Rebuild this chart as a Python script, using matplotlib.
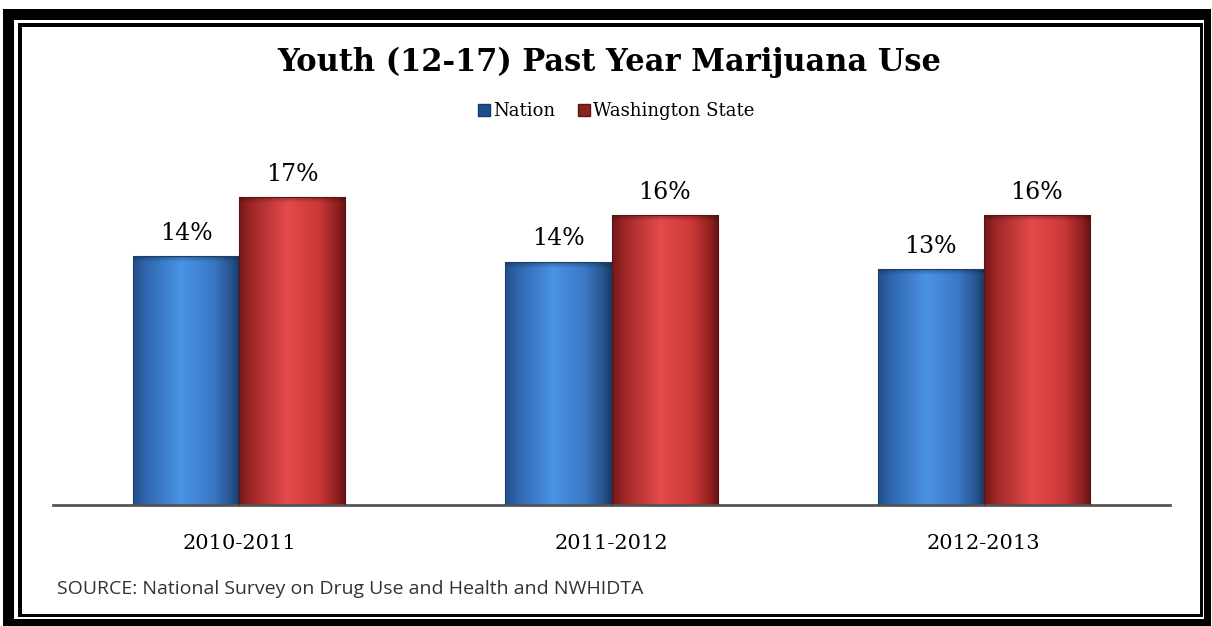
import numpy as np
import matplotlib
matplotlib.use("Agg")
import matplotlib.pyplot as plt
from matplotlib.patches import Rectangle
from matplotlib.colors import LinearSegmentedColormap
from matplotlib.lines import Line2D

# ---- data ----
categories = ["2010-2011", "2011-2012", "2012-2013"]
nation = [13.9, 13.6, 13.2]
washington = [17.2, 16.2, 16.2]
series_names = ["Nation", "Washington State"]
title = "Youth (12-17) Past Year Marijuana Use"
source = "SOURCE: National Survey on Drug Use and Health and NWHIDTA"

W, H = 1212, 626
fig = plt.figure(figsize=(W / 100, H / 100), dpi=100)
fig.patch.set_facecolor("white")

def px_rect(x0, y0, x1, y1, color, z):
    fig.patches.append(Rectangle((x0 / W, 1 - y1 / H), (x1 - x0) / W, (y1 - y0) / H,
                                 transform=fig.transFigure, facecolor=color,
                                 edgecolor="none", zorder=z))

# double frame
px_rect(3, 9, 1211, 626, "black", 0)
px_rect(14, 20, 1204, 619, "white", 0.1)
px_rect(18, 23, 1203, 617, "black", 0.2)
px_rect(22, 27, 1200, 614, "white", 0.3)

ax_left, ax_right = 53, 1170
base_y = 505
ymax = 20
px_per_unit = 17.9
top_y = base_y - ymax * px_per_unit
ax = fig.add_axes([ax_left / W, 1 - base_y / H, (ax_right - ax_left) / W, (base_y - top_y) / H])
ax.set_facecolor("none")
ax.set_zorder(2)

x = np.arange(len(categories))
bw = 0.285

blue_cmap = LinearSegmentedColormap.from_list(
    "b", [(0, "#244f88"), (0.12, "#2f66ad"), (0.45, "#4a93e6"), (0.75, "#3b78c6"), (0.92, "#27548f"), (1, "#183a66")])
red_cmap = LinearSegmentedColormap.from_list(
    "r", [(0, "#741818"), (0.12, "#a02828"), (0.45, "#e44b4b"), (0.75, "#cb3737"), (0.92, "#902020"), (1, "#601212")])

grad = np.linspace(0, 1, 256).reshape(1, -1)

def draw_bars(xs, vals, cmap, edge):
    bars = ax.bar(xs, vals, width=bw, color="none", edgecolor=edge, linewidth=0.8, zorder=3)
    for b in bars:
        x0 = b.get_x()
        h = b.get_height()
        im = ax.imshow(grad, cmap=cmap, extent=(x0, x0 + bw, 0, h), aspect="auto",
                       interpolation="bicubic", zorder=2.5)
        im.set_clip_path(b)
        cap_alpha = np.zeros((64, 1, 4))
        cap_alpha[:, 0, 3] = np.linspace(0.35, 0.0, 64)
        im2 = ax.imshow(cap_alpha, extent=(x0, x0 + bw, h - 0.35, h), aspect="auto",
                        interpolation="bilinear", zorder=2.6)
        im2.set_clip_path(b)
    return bars

nb = draw_bars(x - bw / 2, nation, blue_cmap, "#1d3f6e")
wb = draw_bars(x + bw / 2, washington, red_cmap, "#5e1414")

for bars, vals in ((nb, nation), (wb, washington)):
    for b, v in zip(bars, vals):
        ax.annotate(f"{v:.0f}%", (b.get_x() + bw / 2, v), xytext=(0, 8),
                    textcoords="offset points", ha="center", va="bottom",
                    fontsize=17, family="DejaVu Serif", color="#000000", zorder=5)

ax.set_xlim(-0.5, len(categories) - 0.5)
ax.set_ylim(0, ymax)
ax.set_xticks(x)
ax.set_xticklabels(categories, fontsize=15, family="DejaVu Serif", color="#000000")
ax.tick_params(axis="x", length=0, pad=21)
ax.set_yticks([])
for s in ("top", "left", "right"):
    ax.spines[s].set_visible(False)
ax.spines["bottom"].set_color("#555555")
ax.spines["bottom"].set_linewidth(2)

fig.text(0.503, 1 - 62 / H, title, ha="center", va="center", fontsize=22,
         family="DejaVu Serif", weight="bold", color="#000000")

handles = [Line2D([], [], marker="s", linestyle="none", markersize=8,
                  markerfacecolor="#1f4f8a", markeredgecolor="#163a66"),
           Line2D([], [], marker="s", linestyle="none", markersize=8,
                  markerfacecolor="#8a2222", markeredgecolor="#5e1414")]
fig.legend(handles, series_names, loc="center", bbox_to_anchor=(0.508, 1 - 111 / H), ncol=2,
           frameon=False, prop={"family": "DejaVu Serif", "size": 13},
           handlelength=0.8, handletextpad=0.1, columnspacing=1.2)

fig.text(57 / W, 1 - 589 / H, source, ha="left", va="center", fontsize=14,
         family="Open Sans", color="#333333")

fig.savefig("out.png", dpi=100)
